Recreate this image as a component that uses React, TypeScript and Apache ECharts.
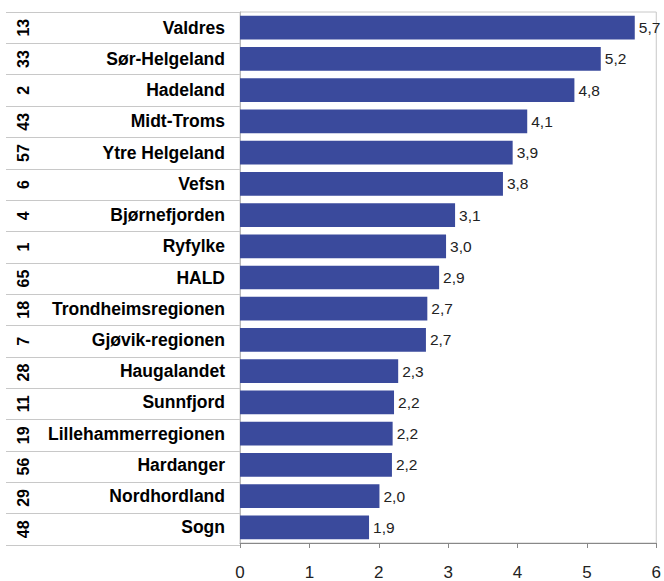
import React, { useEffect, useRef } from "react";
import * as echarts from "echarts";

const categories = [
  "Valdres",
  "Sør-Helgeland",
  "Hadeland",
  "Midt-Troms",
  "Ytre Helgeland",
  "Vefsn",
  "Bjørnefjorden",
  "Ryfylke",
  "HALD",
  "Trondheimsregionen",
  "Gjøvik-regionen",
  "Haugalandet",
  "Sunnfjord",
  "Lillehammerregionen",
  "Hardanger",
  "Nordhordland",
  "Sogn",
];

const ranks = ["13", "33", "2", "43", "57", "6", "4", "1", "65", "18", "7", "28", "11", "19", "56", "29", "48"];

const values = [5.69, 5.2, 4.82, 4.14, 3.93, 3.79, 3.1, 2.97, 2.87, 2.7, 2.68, 2.28, 2.22, 2.2, 2.19, 2.01, 1.86];

const xTicks = { min: 0, max: 6, interval: 1 };

const FONT = "'Liberation Sans', Arial, sans-serif";

export default function App() {
  const ref = useRef<HTMLDivElement>(null);
  useEffect(() => {
    if (!ref.current) return;
    const chart = echarts.init(ref.current, undefined, { renderer: "svg" });
    chart.setOption({
      animation: false,
      backgroundColor: "#ffffff",
      textStyle: { fontFamily: FONT },
      grid: [
        { left: 240, right: 6, top: 12, bottom: 36, show: true, borderColor: "#c8c8c8", borderWidth: 1 },
        { left: 6, width: 234, top: 12, bottom: 36 },
      ],
      xAxis: [
        {
          gridIndex: 0,
          type: "value",
          min: xTicks.min,
          max: xTicks.max,
          interval: xTicks.interval,
          axisLine: { show: true, lineStyle: { color: "#888888", width: 1 } },
          axisTick: { show: true, length: 5, lineStyle: { color: "#888888" } },
          axisLabel: { fontSize: 17, color: "#222222", margin: 21, fontFamily: FONT },
          splitLine: { show: false },
        },
        { gridIndex: 1, type: "value", min: 0, max: 1, show: false },
      ],
      yAxis: [
        {
          gridIndex: 0,
          type: "category",
          data: categories,
          inverse: true,
          axisLine: { show: true, lineStyle: { color: "#b8b8b8" } },
          axisTick: { show: false },
          axisLabel: {
            fontSize: 17.5,
            fontWeight: "bold",
            color: "#000000",
            margin: 15,
            fontFamily: FONT,
          },
        },
        {
          gridIndex: 1,
          type: "category",
          data: ranks,
          inverse: true,
          axisLine: { show: false },
          axisTick: { show: false },
          splitLine: { show: true, lineStyle: { color: "#c8c8c8", width: 1 } },
          axisLabel: {
            inside: true,
            rotate: 90,
            margin: 9,
            fontSize: 16,
            fontWeight: "bold",
            color: "#000000",
            fontFamily: FONT,
          },
        },
      ],
      series: [
        {
          type: "bar",
          xAxisIndex: 0,
          yAxisIndex: 0,
          data: values,
          barCategoryGap: "24%",
          itemStyle: { color: "#3A4A9C" },
          label: {
            show: true,
            position: "right",
            distance: 4,
            fontSize: 15.5,
            color: "#222222",
            fontFamily: FONT,
            formatter: (p: any) => Number(p.value).toFixed(1).replace(".", ","),
          },
        },
      ],
    });
    return () => chart.dispose();
  }, []);
  return (
    <div
      ref={ref}
      style={{ position: "absolute", left: 0, top: 0, width: 664, height: 581 }}
    />
  );
}
